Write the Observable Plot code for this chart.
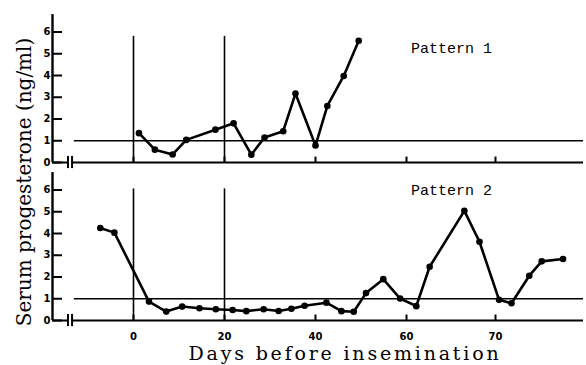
<!DOCTYPE html>
<html>
<head>
<meta charset="utf-8">
<script src="https://cdn.jsdelivr.net/npm/d3@7"></script>
<script src="https://cdn.jsdelivr.net/npm/@observablehq/plot@0.6"></script>
<style>
  body { margin: 0; background: #fff; overflow: hidden; }
  #chart svg { display: block; }
</style>
</head>
<body>
<div id="chart"></div>
<script>
// Two progesterone profiles, days before insemination vs serum progesterone (ng/ml)
const patterns = ["Pattern 1", "Pattern 2"];

const days1 = [1.2, 4.7, 8.6, 11.6, 18.0, 22.0, 25.9, 28.8, 32.9, 35.6, 40.0, 42.6, 46.2, 49.5];
const progesterone1 = [1.35, 0.59, 0.37, 1.04, 1.51, 1.80, 0.36, 1.15, 1.44, 3.17, 0.78, 2.60, 3.98, 5.60];

const days2 = [-7.3, -4.2, 3.4, 7.2, 10.7, 14.5, 18.1, 21.8, 24.8, 28.6, 31.9, 34.7, 37.6, 42.4,
               45.7, 48.4, 51.1, 54.9, 58.6, 61.1, 62.6, 66.5, 68.2, 70.4, 71.8, 73.8, 75.2, 77.6];
const progesterone2 = [4.25, 4.04, 0.87, 0.41, 0.64, 0.56, 0.52, 0.48, 0.43, 0.52, 0.44, 0.54, 0.68, 0.82,
                       0.43, 0.40, 1.26, 1.90, 1.01, 0.66, 2.47, 5.04, 3.62, 0.95, 0.79, 2.06, 2.72, 2.83];

// axis ticks (the day axis is drawn piecewise: 0–60 then 60–70)
const xTicks = [0, 20, 40, 60, 70];
const yTicks = [0, 1, 2, 3, 4, 5, 6];

// reference level and the two vertical day markers
const threshold = 1;
const markerDays = [0, 20];
const markerTops = [5.8, 6.05];

// axis extents and the axis break, in data units
const xStart = -17.8, xEnd = 79.9, yTop = 6.8;
const breakDays = [-14.4, -13.5];
const thresholdStart = -13;

// pattern label anchors
const labelDays = [60.5, 60.5];
const labelLevels = [5.24, 5.98];

const series = [
  ...days1.map((d, i) => ({pattern: patterns[0], day: d, value: progesterone1[i]})),
  ...days2.map((d, i) => ({pattern: patterns[1], day: d, value: progesterone2[i]}))
];
const panels = patterns.map(p => ({pattern: p}));
const yTickRows = patterns.flatMap(p => yTicks.map(v => ({pattern: p, v})));
const xTickRows = patterns.flatMap(p => xTicks.map(v => ({pattern: p, v})));
const breakRows = patterns.flatMap(p => breakDays.map(d => ({pattern: p, d})));
const markerRows = patterns.flatMap((p, i) => markerDays.map(d => ({pattern: p, day: d, top: markerTops[i]})));
const labelRows = patterns.map((p, i) => ({pattern: p, day: labelDays[i], value: labelLevels[i]}));
const xLabelRows = xTicks.map(v => ({pattern: patterns[1], v}));

const tickFont = {fontFamily: "DejaVu Sans", fontWeight: "bold", fontSize: 10};

const chart = Plot.plot({
  width: 586,
  height: 365,
  marginTop: 14.1,
  marginBottom: 45,
  marginLeft: 52,
  marginRight: 3,
  style: {background: "#fff", color: "#000"},
  x: {type: "linear", domain: [xStart, 60, 70, xEnd], range: [52, 406, 495, 583], axis: null},
  y: {domain: [0, yTop], axis: null},
  fy: {domain: patterns, axis: null, paddingInner: 0.0639, paddingOuter: 0, round: false},
  marks: [
    // y axis line
    Plot.ruleX(panels, {x: xStart, y1: 0, y2: yTop, fy: "pattern", stroke: "#000", strokeWidth: 2.4}),
    // inward y ticks and labels
    Plot.ruleY(yTickRows, {y: "v", x1: xStart, x2: xStart + 2.2, fy: "pattern", stroke: "#000", strokeWidth: 2}),
    Plot.text(yTickRows, {x: xStart, y: "v", text: d => String(d.v), fy: "pattern", dx: -2, textAnchor: "end", ...tickFont}),
    // broken baseline
    Plot.ruleY(panels, {y: 0, x1: xStart, x2: breakDays[0], fy: "pattern", stroke: "#000", strokeWidth: 2}),
    Plot.ruleY(panels, {y: 0, x1: breakDays[1], x2: xEnd, fy: "pattern", stroke: "#000", strokeWidth: 2}),
    Plot.ruleX(breakRows, {x: "d", y1: -0.28, y2: 0.28, fy: "pattern", stroke: "#000", strokeWidth: 2}),
    // small day ticks on the baseline
    Plot.ruleX(xTickRows, {x: "v", y1: 0, y2: 0.25, fy: "pattern", stroke: "#000", strokeWidth: 2}),
    // threshold level
    Plot.ruleY(panels, {y: threshold, x1: thresholdStart, x2: xEnd, fy: "pattern", stroke: "#000", strokeWidth: 1.6}),
    // day markers
    Plot.ruleX(markerRows, {x: "day", y1: 0, y2: "top", fy: "pattern", stroke: "#000", strokeWidth: 1.6}),
    // profiles
    Plot.line(series, {x: "day", y: "value", z: "pattern", fy: "pattern", stroke: "#000", strokeWidth: 2.6}),
    Plot.dot(series, {x: "day", y: "value", fy: "pattern", r: 3.3, fill: "#000", stroke: "none"}),
    // pattern names
    Plot.text(labelRows, {x: "day", y: "value", text: "pattern", fy: "pattern", textAnchor: "start",
      fontFamily: "Liberation Mono", fontSize: 15, fill: "#000"}),
    // day tick labels under the lower panel
    Plot.text(xLabelRows, {x: "v", y: 0, text: d => String(d.v), fy: "pattern", dy: 16, ...tickFont, letterSpacing: "2px"})
  ]
});

const svg = d3.select(chart);
svg.append("text")
  .attr("x", 345).attr("y", 360)
  .attr("text-anchor", "middle")
  .attr("font-family", "DejaVu Serif")
  .attr("font-size", 19)
  .attr("letter-spacing", "2.8px")
  .attr("fill", "#000")
  .text("Days before insemination");
svg.append("text")
  .attr("transform", "translate(31,182) rotate(-90)")
  .attr("text-anchor", "middle")
  .attr("font-family", "DejaVu Serif")
  .attr("font-size", 20)
  .attr("fill", "#000")
  .text("Serum progesterone (ng/ml)");

document.getElementById("chart").append(chart);
</script>
</body>
</html>
